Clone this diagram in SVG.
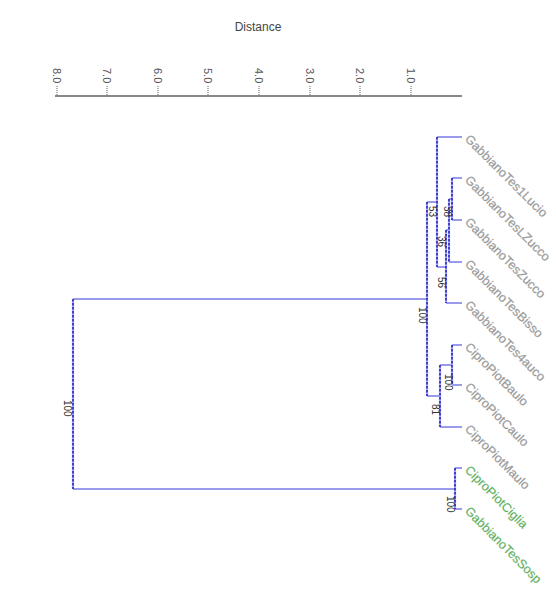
<svg xmlns="http://www.w3.org/2000/svg" width="556" height="600" viewBox="0 0 556 600">
<style>
.title{font-family:"Liberation Sans",Arial,sans-serif;font-size:12px;fill:#444}
.ax{font-family:"Liberation Sans",Arial,sans-serif;font-size:11px;fill:#555}
.tick{stroke:#777;stroke-width:1.2;stroke-dasharray:1 1}
.axis{stroke:#888;stroke-width:2}
.h{stroke:#7a7ae8;stroke-width:1.5;fill:none}
.vb{stroke:#a8a8f2;stroke-width:2.2;fill:none}
.v{stroke:#4040cc;stroke-width:2;stroke-dasharray:2.5 1.5;fill:none}
.nl{font-family:"Liberation Sans",Arial,sans-serif;font-size:10px;fill:#333}
.leaf{font-family:"Liberation Sans",Arial,sans-serif;font-size:12.5px;fill:#8a8a8a;stroke:#bbbbbb;stroke-width:0.3}
.leafg{font-family:"Liberation Sans",Arial,sans-serif;font-size:12.5px;fill:#3d9a3d;stroke:#a8d8a8;stroke-width:0.3}
</style>
<rect width="556" height="600" fill="#fff"/>
<text class="title" x="258" y="31" text-anchor="middle">Distance</text>
<g id="axis">
<line class="axis" x1="55" y1="96" x2="462" y2="96"/>
<g class="ax" dominant-baseline="central">
<text x="57" y="68" transform="rotate(90 57 68)">8.0</text>
<text x="107" y="68" transform="rotate(90 107 68)">7.0</text>
<text x="158" y="68" transform="rotate(90 158 68)">6.0</text>
<text x="208" y="68" transform="rotate(90 208 68)">5.0</text>
<text x="259" y="68" transform="rotate(90 259 68)">4.0</text>
<text x="310" y="68" transform="rotate(90 310 68)">3.0</text>
<text x="360" y="68" transform="rotate(90 360 68)">2.0</text>
<text x="411" y="68" transform="rotate(90 411 68)">1.0</text>
</g>
<line class="tick" x1="57" y1="86" x2="57" y2="96"/>
<line class="tick" x1="107" y1="86" x2="107" y2="96"/>
<line class="tick" x1="158" y1="86" x2="158" y2="96"/>
<line class="tick" x1="208" y1="86" x2="208" y2="96"/>
<line class="tick" x1="259" y1="86" x2="259" y2="96"/>
<line class="tick" x1="310" y1="86" x2="310" y2="96"/>
<line class="tick" x1="360" y1="86" x2="360" y2="96"/>
<line class="tick" x1="411" y1="86" x2="411" y2="96"/>
</g>
<g id="connectors">
<path class="h" d="M437 137H462M452 178H462M452 220H462M449 262H462M446 303H462M452 345H462M452 385H462M440 427H462M455 468H462M455 509H462M449 199H452M446 230H449M437 267H446M427 202H437M440 365H452M427 396H440M73 299H427M73 489H455"/>
<path class="vb" d="M452 178V220M449 199V262M446 230V303M437 137V267M452 345V385M440 365V427M427 202V396M455 468V509M73 299V489"/>
<path class="v" d="M452 178V220M449 199V262M446 230V303M437 137V267M452 345V385M440 365V427M427 202V396M455 468V509M73 299V489"/>
</g>
<g id="nodes" class="nl" dominant-baseline="central">
<g id="n-root"><text x="67" y="400" transform="rotate(90 67 400)">100</text></g>
<g id="n-g"><text x="422" y="307" transform="rotate(90 422 307)">100</text></g>
<g id="n-c"><text x="432" y="206" transform="rotate(90 432 206)">53</text></g>
<g id="n-1"><text x="447" y="206" transform="rotate(90 447 206)">38</text></g>
<g id="n-a"><text x="441" y="236" transform="rotate(90 441 236)">36</text></g>
<g id="n-b"><text x="441" y="277" transform="rotate(90 441 277)">56</text></g>
<g id="n-e"><text x="448" y="374" transform="rotate(90 448 374)">100</text></g>
<g id="n-f"><text x="435" y="404" transform="rotate(90 435 404)">81</text></g>
<g id="n-h"><text x="450" y="496" transform="rotate(90 450 496)">100</text></g>
</g>
<g id="leaves" dominant-baseline="central">
<g id="leaf1"><text class="leaf" x="467" y="137" transform="rotate(45 467 137)">GabbianoTes1Lucio</text></g>
<g id="leaf2"><text class="leaf" x="467" y="178" transform="rotate(45 467 178)">GabbianoTesLZucco</text></g>
<g id="leaf3"><text class="leaf" x="467" y="220" transform="rotate(45 467 220)">GabbianoTesZucco</text></g>
<g id="leaf4"><text class="leaf" x="467" y="262" transform="rotate(45 467 262)">GabbianoTesBisso</text></g>
<g id="leaf5"><text class="leaf" x="467" y="303" transform="rotate(45 467 303)">GabbianoTes4auco</text></g>
<g id="leaf6"><text class="leaf" x="467" y="345" transform="rotate(45 467 345)">CiproPiotBaulo</text></g>
<g id="leaf7"><text class="leaf" x="467" y="385" transform="rotate(45 467 385)">CiproPiotCaulo</text></g>
<g id="leaf8"><text class="leaf" x="467" y="427" transform="rotate(45 467 427)">CiproPiotMaulo</text></g>
<g id="leaf9"><text class="leafg" x="467" y="468" transform="rotate(45 467 468)">CiproPiotCiglia</text></g>
<g id="leaf10"><text class="leafg" x="467" y="509" transform="rotate(45 467 509)">GabbianoTesSosp</text></g>
</g>
</svg>
